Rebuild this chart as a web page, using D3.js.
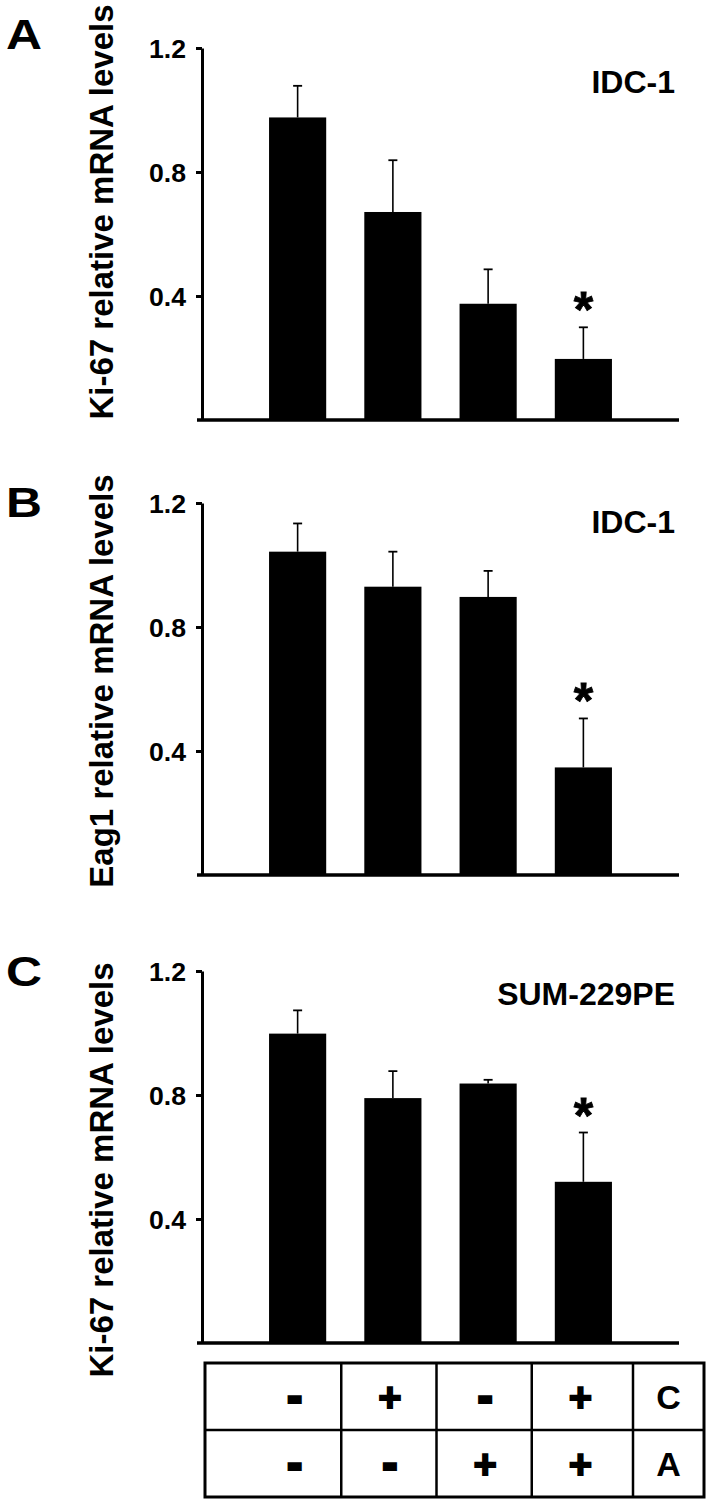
<!DOCTYPE html>
<html>
<head>
<meta charset="utf-8">
<script src="https://cdn.jsdelivr.net/npm/d3@7"></script>
<style>
  html, body { margin: 0; padding: 0; background: #fff; }
  svg { display: block; }
  text { font-family: "Liberation Sans", Arial, Helvetica, sans-serif; font-weight: bold; fill: #000; }
</style>
</head>
<body>
<svg id="chart" width="712" height="1505"></svg>
<script>
// ---------------- data ----------------
const categories = ["C-/A-", "C+/A-", "C-/A+", "C+/A+"];
const treatmentC = ["-", "+", "-", "+"];
const treatmentA = ["-", "-", "+", "+"];
const rowLabels = ["C", "A"];

const panelLetters = ["A", "B", "C"];
const panelTitles = ["Ki-67 relative mRNA levels", "Eag1 relative mRNA levels", "Ki-67 relative mRNA levels"];
const cellLines = ["IDC-1", "IDC-1", "SUM-229PE"];

const valuesA = [0.976, 0.671, 0.375, 0.197];
const errorsA = [0.102, 0.167, 0.111, 0.102];
const valuesB = [1.043, 0.930, 0.897, 0.347];
const errorsB = [0.091, 0.113, 0.084, 0.158];
const valuesC = [0.998, 0.790, 0.837, 0.520];
const errorsC = [0.075, 0.087, 0.012, 0.159];
const significant = [false, false, false, true];

const yTicks = [0.4, 0.8, 1.2];
const yTickLabels = ["0.4", "0.8", "1.2"];

// ---------------- layout ----------------
const svg = d3.select("#chart");
svg.append("rect").attr("width", 712).attr("height", 1505).attr("fill", "#fff");

const axisX = 202;
const x = d3.scaleBand().domain(categories).range([250, 631]).paddingInner(0.4).paddingOuter(0.2);

const panels = [
  { values: valuesA, errors: errorsA, base: 420, top: 48, letterY: 49, titleY: 212, labelY: 93 },
  { values: valuesB, errors: errorsB, base: 875, top: 503, letterY: 517, titleY: 681, labelY: 533 },
  { values: valuesC, errors: errorsC, base: 1343, top: 971, letterY: 986, titleY: 1170, labelY: 1005 }
];

panels.forEach((p, i) => {
  const g = svg.append("g");
  const y = d3.scaleLinear().domain([0, 1.2]).range([p.base, p.top]);

  // y axis
  const ax = g.append("g")
    .attr("transform", `translate(${axisX},0)`)
    .call(d3.axisLeft(y).tickValues(yTicks).tickSize(6).tickSizeOuter(0).tickPadding(10)
      .tickFormat((d, k) => yTickLabels[k]));
  ax.select(".domain").attr("stroke", "#000").attr("stroke-width", 3);
  ax.selectAll(".tick line").attr("stroke", "#000").attr("stroke-width", 3);
  ax.selectAll(".tick text")
    .attr("font-size", 26)
    .attr("font-family", "Liberation Sans, Arial, sans-serif")
    .attr("font-weight", "bold")
    .attr("textLength", 37).attr("lengthAdjust", "spacingAndGlyphs")
    .attr("dy", "0.36em");

  // bars
  g.selectAll("rect.bar").data(p.values).join("rect")
    .attr("class", "bar")
    .attr("x", (d, k) => x(categories[k]))
    .attr("width", x.bandwidth())
    .attr("y", d => y(d))
    .attr("height", d => y(0) - y(d))
    .attr("fill", "#000");

  // error bars
  const cap = 9;
  const eb = g.selectAll("g.err").data(p.values).join("g").attr("class", "err");
  eb.append("line")
    .attr("x1", (d, k) => x(categories[k]) + x.bandwidth() / 2)
    .attr("x2", (d, k) => x(categories[k]) + x.bandwidth() / 2)
    .attr("y1", d => y(d))
    .attr("y2", (d, k) => y(d + p.errors[k]))
    .attr("stroke", "#000").attr("stroke-width", 1.6);
  eb.append("line")
    .attr("x1", (d, k) => x(categories[k]) + x.bandwidth() / 2 - cap / 2)
    .attr("x2", (d, k) => x(categories[k]) + x.bandwidth() / 2 + cap / 2)
    .attr("y1", (d, k) => y(d + p.errors[k]))
    .attr("y2", (d, k) => y(d + p.errors[k]))
    .attr("stroke", "#000").attr("stroke-width", 1.8);

  // significance asterisks
  g.selectAll("text.sig").data(p.values.map((d, k) => ({ d, k })).filter(o => significant[o.k])).join("text")
    .attr("class", "sig")
    .attr("x", o => x(categories[o.k]) + x.bandwidth() / 2)
    .attr("y", o => y(o.d + p.errors[o.k]) - 28 + 28)
    .attr("text-anchor", "middle")
    .attr("font-size", 50)
    .attr("stroke", "#000").attr("stroke-width", 0.8)
    .text("*");

  // baseline (x axis)
  g.append("line")
    .attr("x1", axisX - 5).attr("x2", 679)
    .attr("y1", y(0)).attr("y2", y(0))
    .attr("stroke", "#000").attr("stroke-width", 3.5);

  // panel letter
  g.append("text").attr("x", 6).attr("y", p.letterY).attr("font-size", 43)
    .attr("textLength", 36).attr("lengthAdjust", "spacingAndGlyphs")
    .text(panelLetters[i]);

  // y title
  g.append("text")
    .attr("transform", `translate(113,${p.titleY}) rotate(-90)`)
    .attr("text-anchor", "middle")
    .attr("font-size", 33)
    .text(panelTitles[i]);

  // cell line label
  g.append("text")
    .attr("x", 675).attr("y", p.labelY)
    .attr("text-anchor", "end")
    .attr("font-size", 32)
    .text(cellLines[i]);
});

// ---------------- treatment table ----------------
const gap = x.step() - x.bandwidth();
const tableLeft = 205, tableRight = 704, labelColLeft = 633;
const rowTops = [1363, 1430, 1497];
const colEdges = [tableLeft]
  .concat(categories.slice(1).map(c => x(c) - gap / 2 - 4))
  .concat([labelColLeft, tableRight]);

const tg = svg.append("g");
tg.append("rect")
  .attr("x", tableLeft).attr("y", rowTops[0])
  .attr("width", tableRight - tableLeft).attr("height", rowTops[2] - rowTops[0])
  .attr("fill", "none").attr("stroke", "#000").attr("stroke-width", 3);
tg.append("line").attr("x1", tableLeft).attr("x2", tableRight)
  .attr("y1", rowTops[1]).attr("y2", rowTops[1]).attr("stroke", "#000").attr("stroke-width", 2.5);
tg.selectAll("line.col").data(colEdges.slice(1, -1)).join("line")
  .attr("class", "col")
  .attr("x1", d => d).attr("x2", d => d)
  .attr("y1", rowTops[0]).attr("y2", rowTops[2])
  .attr("stroke", "#000").attr("stroke-width", 2.5);

[treatmentC, treatmentA].forEach((row, r) => {
  const cy = (rowTops[r] + rowTops[r + 1]) / 2;
  tg.selectAll(`text.r${r}`).data(row).join("text")
    .attr("class", `r${r}`)
    .attr("x", (d, k) => x(categories[k]) + x.bandwidth() / 2 - 3)
    .attr("y", d => d === "+" ? cy + 14 : cy + 13)
    .attr("text-anchor", "middle")
    .attr("font-size", 40)
    .attr("stroke", "#000")
    .attr("stroke-width", d => d === "-" ? 4 : 1.8)
    .text(d => d);
  tg.append("text")
    .attr("x", (labelColLeft + tableRight) / 2)
    .attr("y", cy + 12)
    .attr("text-anchor", "middle")
    .attr("font-size", 34)
    .text(rowLabels[r]);
});
</script>
</body>
</html>
